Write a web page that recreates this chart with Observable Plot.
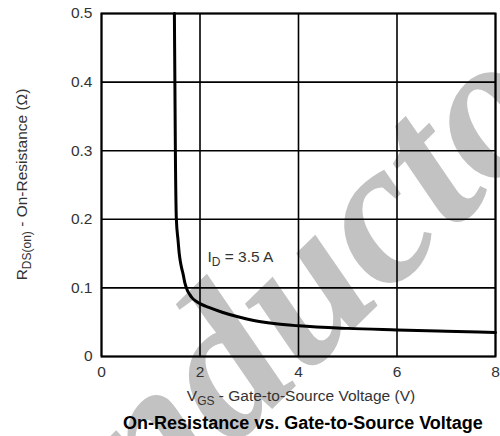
<!DOCTYPE html>
<html><head><meta charset="utf-8">
<script src="https://cdn.jsdelivr.net/npm/d3@7"></script>
<script src="https://cdn.jsdelivr.net/npm/@observablehq/plot@0.6"></script>
<style>
body{margin:0;background:#fff;font-family:"Liberation Sans",Arial,sans-serif;}
#wrap{position:relative;width:500px;height:436px;overflow:hidden;background:#fff;}
#wm{position:absolute;left:118px;top:463px;z-index:0;white-space:nowrap;
  font-family:"Liberation Serif","Times New Roman",serif;font-style:italic;font-weight:bold;
  font-size:205px;line-height:1;color:#c2c2c2;transform:translate(-50%,-50%) rotate(-44.5deg);}
#chart{position:absolute;left:0;top:0;z-index:1;}
#title{position:absolute;left:106px;top:410px;width:394px;height:26px;line-height:26px;z-index:2;
  text-align:center;font-weight:bold;font-size:18px;color:#000;}
</style></head>
<body>
<div id="wrap">
  <div id="wm">Semiconductor</div>
  <div id="chart"></div>
  <div id="title">On-Resistance vs. Gate-to-Source Voltage</div>
</div>
<script>
// Data
const vgs = [1.48, 1.49, 1.50, 1.52, 1.555, 1.58, 1.60, 1.63, 1.657, 1.69, 1.74, 1.79, 1.84, 1.91, 2.0, 2.18, 2.45, 2.79, 3.09, 3.5, 4.0, 5.0, 6.0, 7.0, 8.0];
const rds = [0.5, 0.4, 0.3, 0.2, 0.169, 0.149, 0.139, 0.128, 0.12, 0.108, 0.097, 0.0905, 0.0855, 0.081, 0.077, 0.0715, 0.0645, 0.0575, 0.0525, 0.048, 0.0447, 0.041, 0.0388, 0.0368, 0.035];
const xTicks = [0, 2, 4, 6, 8];
const xTickLabels = ["0", "2", "4", "6", "8"];
const yTicks = [0, 0.1, 0.2, 0.3, 0.4, 0.5];
const yTickLabels = ["0", "0.1", "0.2", "0.3", "0.4", "0.5"];
const annV = [2.83];
const annR = [0.144];

const curve = vgs.map((v, i) => ({v, r: rds[i]}));
const FONT = "'Liberation Sans', Arial, sans-serif";

const chart = Plot.plot({
  width: 500, height: 410,
  marginLeft: 101, marginRight: 5, marginTop: 13, marginBottom: 54,
  style: {background: "transparent", fontFamily: FONT, fontSize: "15.5px", color: "#333"},
  x: {domain: [0, 8]},
  y: {domain: [0, 0.5]},
  marks: [
    Plot.gridX(xTicks, {stroke: "#000", strokeOpacity: 1, strokeWidth: 1.6}),
    Plot.gridY(yTicks, {stroke: "#000", strokeOpacity: 1, strokeWidth: 1.6}),
    Plot.frame({stroke: "#000", strokeWidth: 2}),
    Plot.axisX(xTicks, {tickSize: 0, tickPadding: 9, fontSize: 15.5, fill: "#333",
      tickFormat: d => xTickLabels[xTicks.indexOf(d)], label: null}),
    Plot.axisY(yTicks, {tickSize: 0, tickPadding: 9, fontSize: 15.5, fill: "#333",
      tickFormat: d => yTickLabels[yTicks.indexOf(d)], label: null}),
    Plot.line(curve, {x: "v", y: "r", stroke: "#000", strokeWidth: 3, curve: "monotone-x"})
  ]
});
document.getElementById("chart").appendChild(chart);

const svg = d3.select(chart);
const xs = chart.scale("x"), ys = chart.scale("y");

// Y axis label with subscript
const yMid = (ys.apply(0) + ys.apply(0.5)) / 2;
const yl = svg.append("text")
  .attr("transform", `translate(27,${yMid}) rotate(-90)`)
  .attr("text-anchor", "middle").attr("fill", "#333")
  .style("font-family", FONT).style("font-size", "15.5px");
yl.append("tspan").text("R");
yl.append("tspan").attr("dy", 4).style("font-size", "12px").text("DS(on)");
yl.append("tspan").attr("dy", -4).text(" - On-Resistance (Ω)");

// X axis label with subscript
const xMid = (xs.apply(0) + xs.apply(8)) / 2 + 3;
const xl = svg.append("text")
  .attr("x", xMid).attr("y", 400.5)
  .attr("text-anchor", "middle").attr("fill", "#333")
  .style("font-family", FONT).style("font-size", "15.5px");
xl.append("tspan").text("V");
xl.append("tspan").attr("dy", 4).style("font-size", "12px").text("GS");
xl.append("tspan").attr("dy", -4).text(" - Gate-to-Source Voltage (V)");

// Annotation
const ag = svg.append("g");
const rect = ag.append("rect").attr("fill", "#fff");
const at = ag.append("text")
  .attr("x", xs.apply(annV[0])).attr("y", ys.apply(annR[0]) + 5)
  .attr("fill", "#333").style("font-family", FONT).style("font-size", "15.5px");
at.append("tspan").text("I");
at.append("tspan").attr("dy", 4).style("font-size", "12px").text("D");
at.append("tspan").attr("dy", -4).text(" = 3.5 A");
const bb = at.node().getBBox();
rect.attr("x", bb.x - 1).attr("y", bb.y - 1).attr("width", bb.width + 2).attr("height", bb.height + 2);
</script>
</body></html>
